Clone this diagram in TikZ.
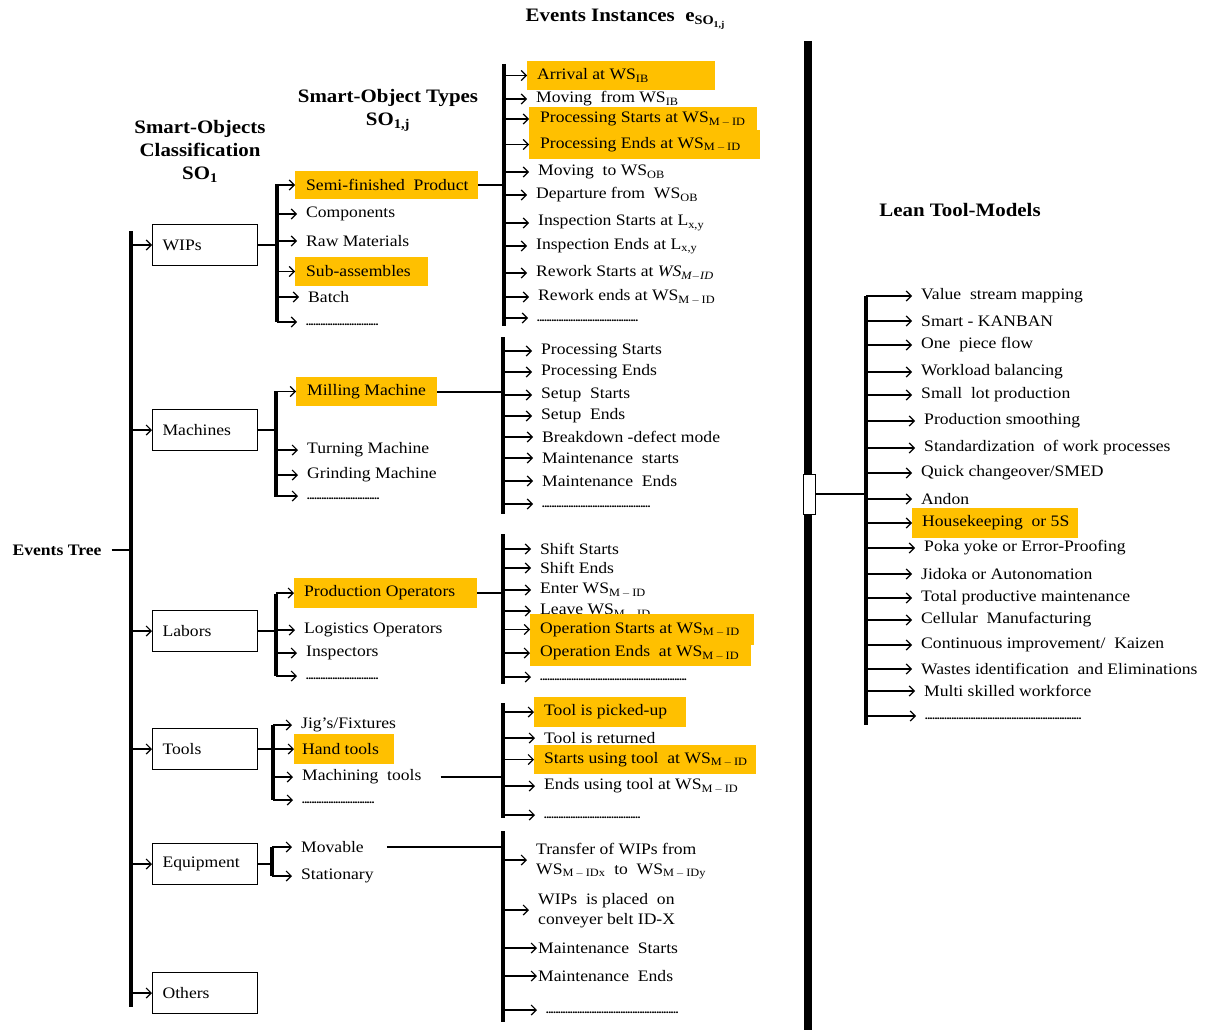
\documentclass[tikz,border=0pt]{standalone}
\usepackage{fontspec}
\setmainfont{Liberation Serif}[FakeStretch=1.1]
\usetikzlibrary{arrows.meta}
\definecolor{hl}{HTML}{FFC000}
\newcommand\itemfont{\fontsize{16}{20}\selectfont}
\newcommand\titlefont{\fontsize{19}{23}\selectfont\bfseries}
\newcommand\WS[1]{WS\textsubscript{#1}}
\newcommand\MID{M\,$-$\,ID}
% a row of small dots standing for further entries
\newcommand\dotrow[1]{\vphantom{Ag}\makebox[#1pt]{\leaders\hbox to 2.4pt{\hss\fontsize{11}{11}\selectfont\bfseries.\hss}\hfill}}
% plain entry: [gap]{name}{bar}{text x}{y}{text}
\newcommand\row[6][9]{%
  \node[item,inner xsep=#1pt] (#2) at ({#4-#1},#5) {#6};
  \draw[arr] (#2.west -| #3) -- (#2.west);}
% highlighted entry: {name}{bar}{left}{top}{right}{bottom}{text x}{text}
\newcommand\hlrow[8]{%
  \node[hlbox,minimum height={#6-#4},inner xsep={#7-#3}] (#1) at (#3,{(#4+#6)/2})
    {\makebox[\dimexpr#5pt+#3pt-#7pt-#7pt\relax][l]{#8}};
  \draw[arr] (#1.west -| #2) -- (#1.west);}

\begin{document}
\begin{tikzpicture}[x=1pt,y=-1pt,
  arr/.style={line width=1.2pt,-{Straight Barb[length=5pt,width=10pt]}},
  bar/.style={line width=3.5pt},
  link/.style={line width=2pt},
  item/.style={anchor=west,inner ysep=1pt,font=\itemfont},
  hlbox/.style={item,fill=hl,inner ysep=0pt},
  cat/.style={draw,line width=1.2pt,anchor=west,minimum height=41pt,text width=85pt,
    inner xsep=10pt,align=left,font=\itemfont},
  title/.style={font=\titlefont,inner sep=0pt}]

\useasboundingbox (0,0) rectangle (1206,1030);

% ---------- headings ----------
\node[title] (tinst) at (625,19) {Events Instances\ \ e\raisebox{-0.4ex}{\fontsize{13}{13}\selectfont SO\raisebox{-0.35ex}{\fontsize{9}{9}\selectfont 1,j}}};
\node[title,align=center] (ttypes) at (388,110) {Smart-Object Types\\SO\textsubscript{1,j}};
\node[title,align=center] (tcls) at (200,151) {Smart-Objects\\Classification\\SO\textsubscript{1}};
\node[title] (tlean) at (960,210) {Lean Tool-Models};
\node[title,font=\fontsize{16}{19}\selectfont\bfseries] (ttree) at (57,550) {Events Tree};

% ---------- bars ----------
\coordinate (maintop) at (131,231);  \coordinate (mainbot) at (131,1007);
\coordinate (w1top) at (277,184);    \coordinate (w1bot) at (277,322);
\coordinate (m1top) at (276,391);    \coordinate (m1bot) at (276,497);
\coordinate (l1top) at (276,594);    \coordinate (l1bot) at (276,676);
\coordinate (t1top) at (273,725);    \coordinate (t1bot) at (273,800);
\coordinate (q1top) at (272,847);    \coordinate (q1bot) at (272,876);
\coordinate (e1top) at (504,64);     \coordinate (e1bot) at (504,326);
\coordinate (e2top) at (503,337);    \coordinate (e2bot) at (503,514);
\coordinate (e3top) at (503,534);    \coordinate (e3bot) at (503,684);
\coordinate (e4top) at (503,703);    \coordinate (e4bot) at (503,818);
\coordinate (e5top) at (503,831);    \coordinate (e5bot) at (503,1022);
\coordinate (leantop) at (866,296);  \coordinate (leanbot) at (866,725);
\coordinate (bigtop) at (808,41);    \coordinate (bigbot) at (808,1030);

\draw[line width=4pt] (maintop) -- (mainbot);
\foreach \b in {w1,m1,l1,t1,q1,e1,e2,e3,e4,e5,lean}
  \draw[bar] (\b top) -- (\b bot);
\draw[line width=8pt] (bigtop) -- (bigbot);

\draw[line width=1.5pt] ([xshift=10pt]ttree.east) -- (ttree.east -| maintop);

% ---------- categories ----------
\node[cat] (wips)  at (152,245) {WIPs};
\node[cat] (mach)  at (152,430) {Machines};
\node[cat] (lab)   at (152,631) {Labors};
\node[cat] (tools) at (152,749) {Tools};
\node[cat] (equip) at (152,864) {Equipment};
\node[cat] (oth)   at (152,993) {Others};
\foreach \c/\s in {wips/w1,mach/m1,lab/l1,tools/t1,equip/q1}{
  \draw[arr] (\c.west -| maintop) -- (\c.west);
  \draw[link] (\c.east) -- (\c.east -| \s top);}
\draw[arr] (oth.west -| maintop) -- (oth.west);

% ---------- WIPs ----------
\hlrow{semi}{w1top}{295}{171}{478}{199}{306}{Semi-finished\ \ Product}
\row{comp}{w1top}{306}{214}{Components}
\row{raw}{w1top}{306}{241}{Raw Materials}
\hlrow{sub}{w1top}{295}{257}{428}{286}{306}{Sub-assembles}
\row{batch}{w1top}{308}{297}{Batch}
\row{wdots}{w1top}{306}{322}{\dotrow{72}}
\draw[link] (semi.east) -- (semi.east -| e1top);

\hlrow{arrival}{e1top}{527}{61}{715}{90}{537}{Arrival at \WS{IB}}
\row{movfrom}{e1top}{536}{99}{Moving\ \ from \WS{IB}}
\hlrow{pstart}{e1top}{529}{107}{757}{131}{540}{Processing Starts at \WS{\MID}}
\hlrow{pend}{e1top}{529}{130}{760}{159}{540}{Processing Ends at \WS{\MID}}
\row{movto}{e1top}{538}{172}{Moving\ \ to \WS{OB}}
\row{depart}{e1top}{536}{195}{Departure from\ \ \WS{OB}}
\row{istart}{e1top}{538}{223}{Inspection Starts at L\textsubscript{x,y}}
\row{iend}{e1top}{536}{246}{Inspection Ends at L\textsubscript{x,y}}
\row{rstart}{e1top}{536}{273}{Rework Starts at \textit{WS\textsubscript{M$-$ID}}}
\row{rend}{e1top}{538}{297}{Rework ends at \WS{\MID}}
\row{edots1}{e1top}{537}{318}{\dotrow{103}}

% ---------- Machines ----------
\hlrow{mill}{m1top}{296}{377}{437}{406}{307}{Milling\ Machine}
\row{turn}{m1top}{307}{450}{Turning Machine}
\row{grind}{m1top}{307}{475}{Grinding Machine}
\row{mdots}{m1top}{307}{496}{\dotrow{72}}
\draw[link] (mill.east) -- (mill.east -| e2top);

\row{mpstart}{e2top}{541}{351}{Processing Starts}
\row{mpend}{e2top}{541}{372}{Processing Ends}
\row{sustart}{e2top}{541}{395}{Setup\ \ Starts}
\row{suend}{e2top}{541}{416}{Setup\ \ Ends}
\row{brk}{e2top}{542}{437}{Breakdown -defect mode}
\row{mtstart}{e2top}{542}{458}{Maintenance\ \ starts}
\row{mtend}{e2top}{542}{481}{Maintenance\ \ Ends}
\row{edots2}{e2top}{542}{504}{\dotrow{108}}

% ---------- Labors ----------
\hlrow{prodop}{l1top}{294}{578}{477}{608}{304}{Production Operators}
\row{logop}{l1top}{304}{630}{Logistics Operators}
\row{insp}{l1top}{306}{653}{Inspectors}
\row{ldots}{l1top}{306}{676}{\dotrow{72}}
\draw[link] (prodop.east) -- (prodop.east -| e3top);

\row{shstart}{e3top}{540}{549}{Shift Starts}
\row{shend}{e3top}{540}{568}{Shift Ends}
\row{enter}{e3top}{540}{590}{Enter \WS{\MID}}
\row{leave}{e3top}{540}{611}{Leave \WS{\MID}}
\hlrow{opstart}{e3top}{530}{614}{754}{645}{540}{Operation Starts at \WS{\MID}}
\hlrow{opend}{e3top}{530}{640}{751}{666}{540}{Operation Ends\ \ at \WS{\MID}}
\row{edots3}{e3top}{540}{677}{\dotrow{148}}

% ---------- Tools ----------
\row{jig}{t1top}{301}{725}{Jig's/Fixtures}
\hlrow{hand}{t1top}{294}{734}{394}{764}{302}{Hand tools}
\row{machtools}{t1top}{302}{777}{Machining\ \ tools}
\row{tdots}{t1top}{302}{800}{\dotrow{72}}
\draw[link] ([xshift=10pt]machtools.east) -- (machtools.east -| e4top);

\hlrow{picked}{e4top}{534}{697}{686}{727}{544}{Tool is picked-up}
\row{returned}{e4top}{544}{738}{Tool is returned}
\hlrow{startuse}{e4top}{534}{745}{756}{774}{544}{Starts using tool\ \ at \WS{\MID}}
\row{enduse}{e4top}{544}{786}{Ends using tool at \WS{\MID}}
\row{edots4}{e4top}{544}{815}{\dotrow{96}}

% ---------- Equipment ----------
\row{movable}{q1top}{301}{847}{Movable}
\row{stat}{q1top}{301}{876}{Stationary}
\draw[line width=1.5pt] ([xshift=14pt]movable.east) -- (movable.east -| e5top);

\row{transfer}{e5top}{536}{860}{\begin{tabular}{@{}l@{}}Transfer of WIPs from\\\WS{\MID x}\ \ to\ \ \WS{\MID y}\end{tabular}}
\row{placed}{e5top}{538}{910}{\begin{tabular}{@{}l@{}}WIPs\ \ is placed\ \ on\\conveyer belt ID-X\end{tabular}}
\row[1]{eqmstart}{e5top}{538}{948}{Maintenance\ \ Starts}
\row[1]{eqmend}{e5top}{538}{976}{Maintenance\ \ Ends}
\row{edots5}{e5top}{546}{1010}{\dotrow{134}}

% ---------- Lean tool-models ----------
\node[draw,fill=white,line width=1pt,minimum width=12pt,minimum height=40pt,inner sep=0pt] (hub) at (809,494) {};
\draw[link] (hub.east) -- (hub.east -| leantop);

\row{vsm}{leantop}{921}{296}{Value\ \ stream mapping}
\row{kanban}{leantop}{921}{321}{Smart - KANBAN}
\row{onepiece}{leantop}{921}{345}{One\ \ piece flow}
\row{workload}{leantop}{921}{372}{Workload balancing}
\row{smalllot}{leantop}{921}{395}{Small\ \ lot production}
\row{smooth}{leantop}{924}{421}{Production smoothing}
\row{std}{leantop}{924}{448}{Standardization\ \ of work processes}
\row{smed}{leantop}{921}{473}{Quick changeover/SMED}
\row{andon}{leantop}{921}{499}{Andon}
\hlrow{fives}{leantop}{912}{508}{1078}{538}{922}{Housekeeping\ \ or 5S}
\row{poka}{leantop}{924}{548}{Poka yoke or Error-Proofing}
\row{jidoka}{leantop}{921}{574}{Jidoka or Autonomation}
\row{tpm}{leantop}{921}{598}{Total productive maintenance}
\row{cell}{leantop}{921}{620}{Cellular\ \ Manufacturing}
\row{kaizen}{leantop}{921}{645}{Continuous improvement/\ \ Kaizen}
\row{waste}{leantop}{921}{669}{Wastes identification\ \ and Eliminations}
\row{multi}{leantop}{924}{691}{Multi skilled workforce}
\row{leandots}{leantop}{925}{716}{\dotrow{158}}
\end{tikzpicture}
\end{document}
